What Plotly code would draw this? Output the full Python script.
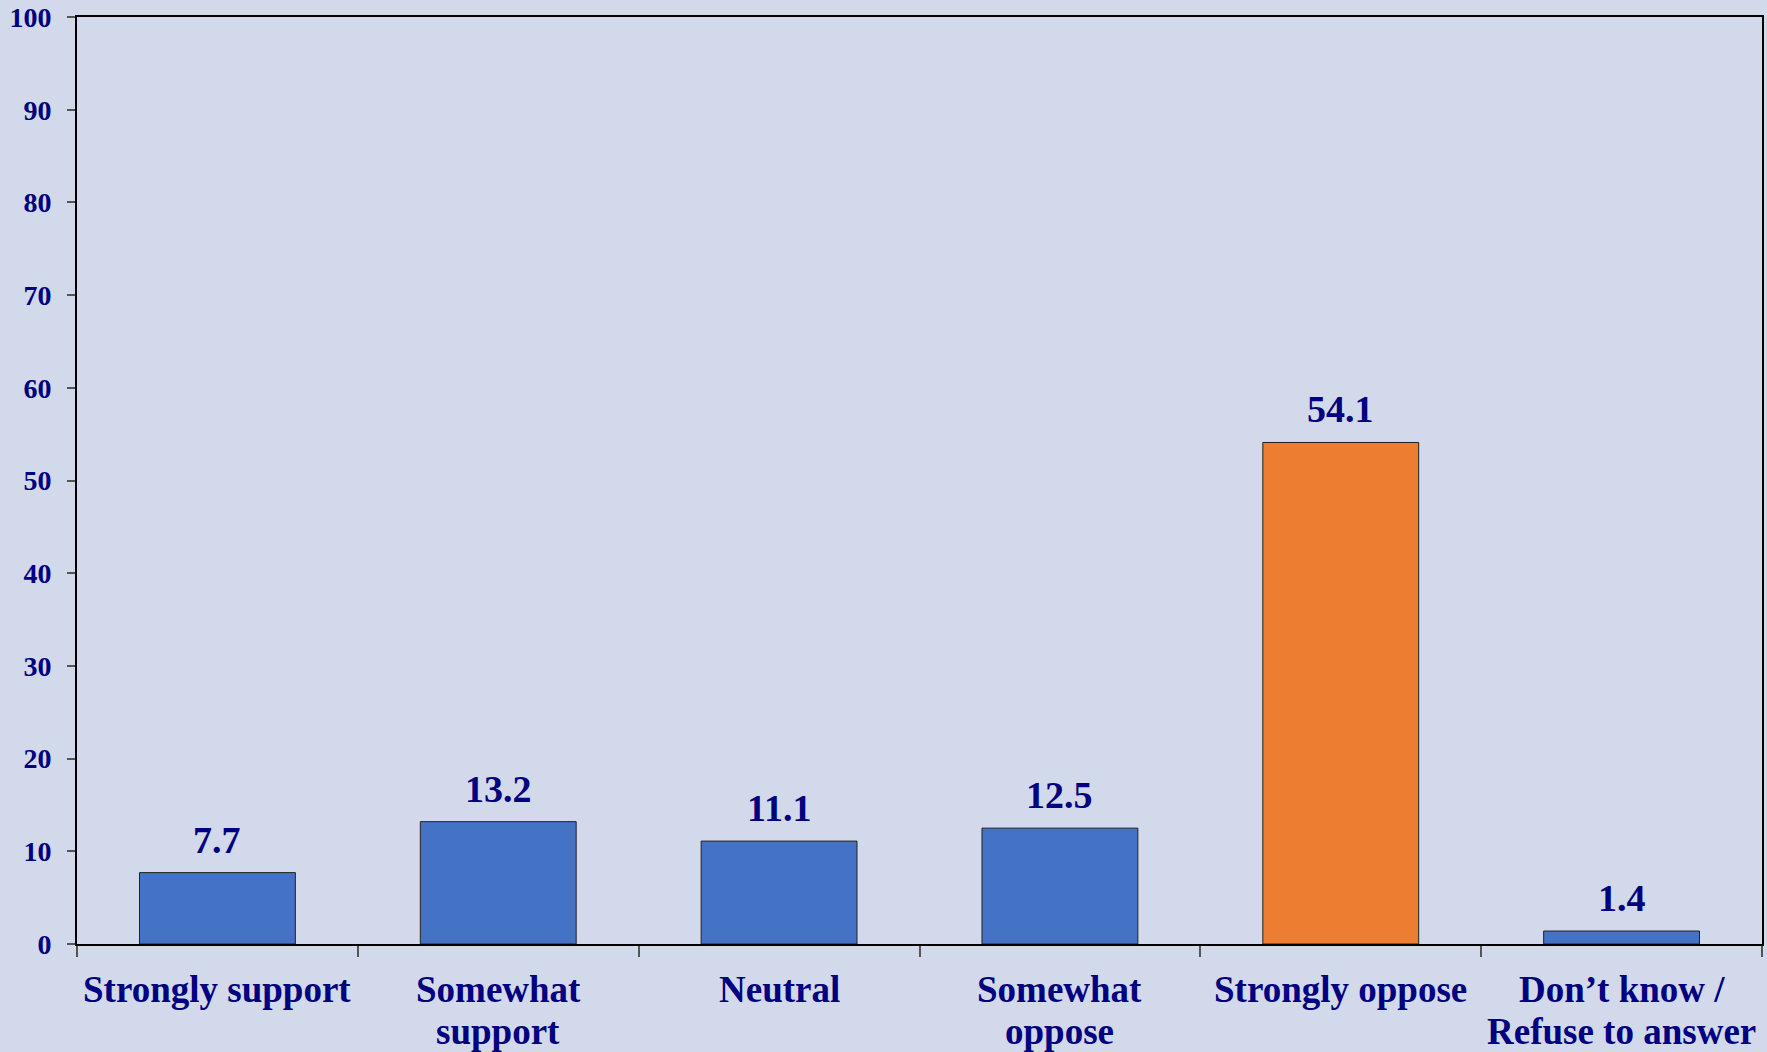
import plotly.graph_objects as go

# ---------------------- Data ----------------------
categories = ['Strongly support', 'Somewhat<br>support', 'Neutral',
              'Somewhat<br>oppose', 'Strongly oppose', 'Don\u2019t know /<br>Refuse to answer']
values = [7.7, 13.2, 11.1, 12.5, 54.1, 1.4]
y_ticks = [0, 10, 20, 30, 40, 50, 60, 70, 80, 90, 100]

# ---------------------- Styles ----------------------
navy = '#000080'
bg = '#D2D9EB'
bar_colors = ['#4472C4', '#4472C4', '#4472C4', '#4472C4', '#ED7D31', '#4472C4']
font_family = 'Liberation Serif, Times New Roman, serif'

fig = go.Figure()
fig.add_trace(go.Bar(
    x=categories, y=values,
    marker=dict(color=bar_colors, line=dict(color='#222222', width=1)),
    width=0.555,
    hoverinfo='y',
))

# value labels above bars
for cat, val in zip(categories, values):
    fig.add_annotation(x=cat, y=val, text=f'{val:.1f}', showarrow=False,
                       yanchor='bottom', yshift=10,
                       font=dict(family=font_family, size=38, color=navy, weight='bold'))

# category labels under the axis (one annotation per line, tighter line spacing)
for cat in categories:
    for i, line in enumerate(cat.split('<br>')):
        fig.add_annotation(x=cat, y=0, yref='paper', text=line, showarrow=False,
                           yanchor='middle', yshift=-45 - 42 * i,
                           font=dict(family=font_family, size=37, color=navy, weight='bold'))

fig.update_layout(
    width=1767, height=1052,
    margin=dict(l=77, r=5, t=17, b=108),
    paper_bgcolor=bg, plot_bgcolor=bg,
    showlegend=False,
    font=dict(family=font_family, color=navy, weight='bold'),
)
fig.update_xaxes(
    type='category', tickson='boundaries', ticks='outside', ticklen=11,
    tickcolor='#555555', tickwidth=1.5, showticklabels=False, automargin=False,
    showline=True, linecolor='black', linewidth=2, mirror=True,
    showgrid=False,
)
fig.update_yaxes(
    range=[0, 100], tickvals=y_ticks, ticks='outside', ticklen=8,
    tickcolor='#555555', tickwidth=1.5, automargin=False,
    showline=True, linecolor='black', linewidth=2, mirror=True,
    showgrid=False, zeroline=False, ticklabelstandoff=10,
    tickfont=dict(size=28, color=navy, family=font_family, weight='bold'),
)

fig.write_html('out.html', config={'displayModeBar': False},
               post_script="document.body.style.margin='0';")
